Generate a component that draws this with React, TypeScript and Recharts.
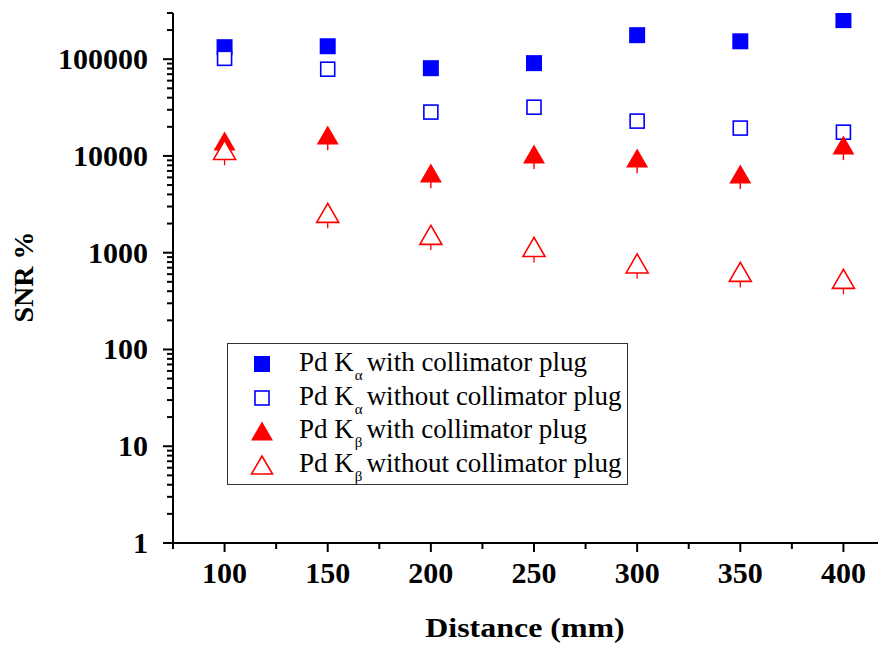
import { ScatterChart, Scatter, XAxis, YAxis, ErrorBar } from 'recharts';

const distances = [100, 150, 200, 250, 300, 350, 400];

// SNR values
const kaWith = [133000, 136000, 80700, 91000, 177000, 153000, 253000];
const kaWithErr = [9000, 9500, 5600, 6400, 12000, 10700, 17700];
const kaWithout = [102000, 78800, 28400, 31900, 22900, 19400, 17600];
const kaWithoutErr = [7100, 5500, 2000, 2200, 1600, 1400, 1200];
const kbWith = [13240, 15280, 6190, 9720, 8840, 6040, 12050];
const kbWithErr = [3300, 3800, 1550, 2400, 2200, 1500, 3000];
const kbWithout = [10700, 2390, 1416, 1064, 718, 587, 497];
const kbWithoutErr = [2700, 600, 350, 270, 180, 150, 125];
const kbWithoutInner = [540, 120, 70, 55, 36, 30, 25];

const xTicks = [75, 100, 125, 150, 175, 200, 225, 250, 275, 300, 325, 350, 375, 400, 425];
const xLabeled = [100, 150, 200, 250, 300, 350, 400];
const yDecades = [1, 10, 100, 1000, 10000, 100000];
const yMinorFactors = [2, 3, 4, 5, 6, 7, 8, 9];

const yTicks: number[] = [];
yDecades.forEach((d) => {
  yTicks.push(d);
  yMinorFactors.forEach((f) => {
    if (d * f <= 300000) yTicks.push(d * f);
  });
});

const toData = (ys: number[], errs: number[], inner?: number[]) =>
  distances.map((x, i) => ({ x, y: ys[i], err: errs[i], inner: inner ? inner[i] : 0 }));

const BLUE = '#0000ff';
const RED = '#ff0000';
const FONT = '"Liberation Serif", "Times New Roman", serif';

function XTick({ x, y, payload }: any) {
  const major = xLabeled.includes(payload.value);
  return (
    <g>
      <line x1={x} x2={x} y1={y} y2={y + (major ? 9 : 6)} stroke="#000" strokeWidth={2} />
      {major && (
        <text x={x} y={y + 40} textAnchor="middle" fontFamily={FONT} fontWeight="bold" fontSize={30} fill="#000">
          {payload.value}
        </text>
      )}
    </g>
  );
}

function YTick({ x, y, payload }: any) {
  const major = yDecades.includes(payload.value);
  return (
    <g>
      <line x1={x} x2={x - (major ? 10 : 6)} y1={y} y2={y} stroke="#000" strokeWidth={2} />
      {major && (
        <text x={x - 25} y={y + 10} textAnchor="end" fontFamily={FONT} fontWeight="bold" fontSize={30} fill="#000">
          {payload.value}
        </text>
      )}
    </g>
  );
}

function Square({ cx, cy, filled }: any) {
  if (cx == null || cy == null) return null;
  const s = filled ? 16 : 14;
  return (
    <rect
      x={cx - s / 2}
      y={cy - s / 2}
      width={s}
      height={s}
      fill={filled ? BLUE : '#fff'}
      stroke={BLUE}
      strokeWidth={filled ? 0 : 1.6}
    />
  );
}

// triangle centred on its centroid, like the plotting program does
function Triangle({ cx, cy, filled }: any) {
  if (cx == null || cy == null) return null;
  const w = 22;
  const h = 19;
  const pts = `${cx},${cy - (2 * h) / 3} ${cx - w / 2},${cy + h / 3} ${cx + w / 2},${cy + h / 3}`;
  return (
    <polygon
      points={pts}
      fill={filled ? RED : '#fff'}
      stroke={RED}
      strokeWidth={filled ? 0 : 1.6}
    />
  );
}

const Nothing = () => <g />;

function LegendIcon({ kind }: { kind: string }) {
  return (
    <svg width={24} height={24} style={{ position: 'absolute', left: 22, top: -12 }}>
      {kind === 'sq' && <rect x={4} y={4} width={16} height={16} fill={BLUE} />}
      {kind === 'osq' && <rect x={5} y={5} width={14} height={14} fill="none" stroke={BLUE} strokeWidth={1.6} />}
      {kind === 'tri' && <polygon points="12,2.5 1,21.5 23,21.5" fill={RED} />}
      {kind === 'otri' && <polygon points="12,3 1.5,21 22.5,21" fill="none" stroke={RED} strokeWidth={1.6} />}
    </svg>
  );
}

const legendRows = [
  { kind: 'sq', sub: 'α', rest: 'with collimator plug' },
  { kind: 'osq', sub: 'α', rest: 'without collimator plug' },
  { kind: 'tri', sub: 'β', rest: 'with collimator plug' },
  { kind: 'otri', sub: 'β', rest: 'without collimator plug' },
];

export default function App() {
  return (
    <div style={{ position: 'relative', margin: -8, width: 886, height: 652, overflow: 'hidden', background: '#fff' }}>
      <ScatterChart width={900} height={652} margin={{ top: 13, right: 5, left: 0, bottom: 0 }}>
        <XAxis
          dataKey="x"
          type="number"
          domain={[75, 425]}
          ticks={xTicks}
          interval={0}
          tick={<XTick />}
          tickLine={false}
          tickSize={0}
          tickMargin={0}
          height={109}
          axisLine={{ stroke: '#000', strokeWidth: 2 }}
        />
        <YAxis
          dataKey="y"
          type="number"
          scale="log"
          domain={[1, 300000]}
          ticks={yTicks}
          interval={0}
          allowDataOverflow
          tick={<YTick />}
          tickLine={false}
          tickSize={0}
          tickMargin={0}
          width={173}
          axisLine={{ stroke: '#000', strokeWidth: 2 }}
        />
        <Scatter data={toData(kaWith, kaWithErr)} shape={(p: any) => <Square {...p} filled />} isAnimationActive={false}>
          <ErrorBar dataKey="err" direction="y" width={5} stroke={BLUE} strokeWidth={1.2} />
        </Scatter>
        <Scatter data={toData(kaWithout, kaWithoutErr)} shape={(p: any) => <Square {...p} />} isAnimationActive={false} />
        <Scatter data={toData(kbWith, kbWithErr)} shape={(p: any) => <Triangle {...p} filled />} isAnimationActive={false}>
          <ErrorBar dataKey="err" direction="y" width={0} stroke={RED} strokeWidth={1.4} />
        </Scatter>
        <Scatter data={toData(kbWithout, kbWithoutErr)} shape={(p: any) => <Triangle {...p} />} isAnimationActive={false} />
        {/* error bars drawn on top of the hollow symbols */}
        <Scatter data={toData(kaWithout, kaWithoutErr)} shape={Nothing} isAnimationActive={false}>
          <ErrorBar dataKey="err" direction="y" width={5.5} stroke={BLUE} strokeWidth={1.3} />
        </Scatter>
        <Scatter data={toData(kbWithout, kbWithoutErr, kbWithoutInner)} shape={Nothing} isAnimationActive={false}>
          <ErrorBar dataKey="err" direction="y" width={0} stroke={RED} strokeWidth={1.3} />
          <ErrorBar dataKey="inner" direction="y" width={5} stroke={RED} strokeWidth={1.3} />
        </Scatter>
      </ScatterChart>

      <div
        style={{
          position: 'absolute',
          left: 24,
          top: 277,
          transform: 'translate(-50%, -50%) rotate(-90deg)',
          fontFamily: FONT,
          fontWeight: 'bold',
          fontSize: 28,
          whiteSpace: 'nowrap',
        }}
      >
        SNR %
      </div>
      <div
        style={{
          position: 'absolute',
          left: 525,
          top: 614,
          transform: 'translateX(-50%) scaleX(1.14)',
          fontFamily: FONT,
          fontWeight: 'bold',
          fontSize: 28,
          lineHeight: 1,
          whiteSpace: 'nowrap',
        }}
      >
        Distance (mm)
      </div>

      <div
        style={{
          position: 'absolute',
          left: 227,
          top: 343,
          width: 399,
          height: 140,
          border: '1.5px solid #333',
          fontFamily: FONT,
          fontSize: 27,
          color: '#000',
        }}
      >
        {legendRows.map((r, i) => (
          <div key={i} style={{ position: 'absolute', left: 0, top: 20 + i * 33.5, height: 0 }}>
            <LegendIcon kind={r.kind} />
            <div style={{ position: 'absolute', left: 71, top: -17, whiteSpace: 'nowrap', lineHeight: '30px' }}>
              Pd K
              <sub style={{ fontSize: 15, verticalAlign: -9, marginLeft: 1, marginRight: 4 }}>{r.sub}</sub>
              {r.rest}
            </div>
          </div>
        ))}
      </div>
    </div>
  );
}
